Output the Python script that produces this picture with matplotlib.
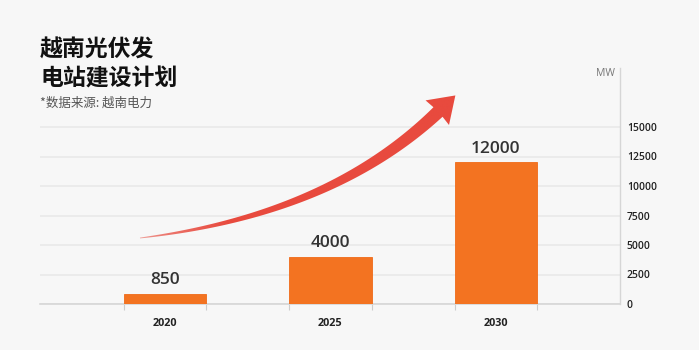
import numpy as np
import matplotlib
matplotlib.use("Agg")
import matplotlib.pyplot as plt
from matplotlib.path import Path
from matplotlib.patches import PathPatch
from matplotlib.ticker import FixedLocator

# ---- data ----
years = ["2020", "2025", "2030"]
capacity_mw = [850, 4000, 12000]
y_ticks = [0, 2500, 5000, 7500, 10000, 12500, 15000]
title_lines = ["越南光伏发", "电站建设计划"]
subtitle = "*数据来源: 越南电力"
unit_label = "MW"

W, H = 699, 350
BG = "#f7f7f7"
BAR = "#f37321"
ARROW = "#e84a3e"
CJK = ["Noto Sans CJK SC", "DejaVu Sans"]
NUM = ["Open Sans", "DejaVu Sans"]

fig = plt.figure(figsize=(W / 100, H / 100), dpi=100, facecolor=BG)
ax = fig.add_axes([40 / W, 1 - 304 / H, 580 / W, (304 - 68) / H])
ax.set_facecolor(BG)

x = np.arange(len(years))
bars = ax.bar(x, capacity_mw, width=0.5, color=BAR, edgecolor="#f06a18", linewidth=0.6, zorder=3)
for xi, v in zip(x, capacity_mw):
    ax.annotate(f"{v}", (xi, v), xytext=(0, 4), textcoords="offset points",
                ha="center", va="bottom", fontsize=12.5, color="#333333",
                family=NUM, fontweight="semibold")

ax.set_xlim(-0.755, 2.75)
ax.set_ylim(0, 20000)
ax.set_yticks(y_ticks)
ax.yaxis.tick_right()
ax.tick_params(axis="y", length=0, pad=5, labelsize=7.5, labelcolor="#222222")
for lab in ax.get_yticklabels():
    lab.set_family(NUM)
    lab.set_fontweight("semibold")
ax.grid(axis="y", color="#e8e8e8", linewidth=1.1, zorder=0)
ax.set_xticks(x)
ax.set_xticklabels(years, family=NUM, fontweight="bold", fontsize=7.8, color="#222222")
ax.tick_params(axis="x", which="major", length=0, pad=10)
ax.xaxis.set_minor_locator(FixedLocator(np.concatenate([x - 0.25, x + 0.25])))
ax.tick_params(axis="x", which="minor", length=4, color="#cccccc", width=0.8)
for s in ["top", "left"]:
    ax.spines[s].set_visible(False)
ax.spines["bottom"].set_color("#d6d6d6")
ax.spines["bottom"].set_linewidth(1.2)
ax.spines["right"].set_color("#d6d6d6")
ax.spines["right"].set_linewidth(1.0)

# ---- text ----
fig.text(40 / W, 1 - 50.5 / H, title_lines[0], family=CJK, fontweight="heavy",
         fontsize=16.5, color="#111111", va="center", ha="left")
fig.text(40 / W, 1 - 79 / H, title_lines[1], family=CJK, fontweight="heavy",
         fontsize=16.5, color="#111111", va="center", ha="left")
fig.text(40 / W, 1 - 103 / H, subtitle, family=CJK, fontsize=9,
         color="#555555", va="center", ha="left")
fig.text(615 / W, 1 - 73 / H, unit_label, family=NUM, fontsize=7.5,
         color="#777777", va="center", ha="right")

# ---- decorative growth arrow (pixel overlay) ----
ov = fig.add_axes([0, 0, 1, 1], facecolor="none")
ov.set_xlim(0, W)
ov.set_ylim(H, 0)
ov.axis("off")

P0 = np.array([140.0, 238.0])
C = np.array([330.0, 215.0])
P2 = np.array([438.0, 112.0])
t = np.linspace(0, 1, 120)
pts = ((1 - t) ** 2)[:, None] * P0 + (2 * (1 - t) * t)[:, None] * C + (t ** 2)[:, None] * P2
d = (-2 * (1 - t))[:, None] * P0 + (2 * (1 - 2 * t))[:, None] * C + (2 * t)[:, None] * P2
d /= np.linalg.norm(d, axis=1)[:, None]
nrm = np.stack([-d[:, 1], d[:, 0]], axis=1)
half = 0.4 + 6.2 * t ** 0.9
left = pts + nrm * half[:, None]
right = pts - nrm * half[:, None]
tip_dir = d[-1]
tip_n = nrm[-1]
tip = P2 + tip_dir * 24
hl = P2 + tip_n * 17 - tip_dir * 1
hr = P2 - tip_n * 17 - tip_dir * 1
verts = np.vstack([left, [hl], [tip], [hr], right[::-1], [left[0]]])
codes = [Path.MOVETO] + [Path.LINETO] * (len(verts) - 2) + [Path.CLOSEPOLY]
patch = PathPatch(Path(verts, codes), facecolor="none", edgecolor="none")
ov.add_patch(patch)

gx = np.linspace(0, W, 400)
alpha = np.clip((gx - 138) / 90, 0, 1) ** 0.5 * 0.6 + 0.4
alpha = np.clip(alpha, 0, 1)
rgb = matplotlib.colors.to_rgb(ARROW)
img = np.zeros((2, len(gx), 4))
img[..., 0], img[..., 1], img[..., 2] = rgb
img[..., 3] = alpha[None, :]
im = ov.imshow(img, extent=[0, W, H, 0], aspect="auto", interpolation="bilinear", zorder=5)
im.set_clip_path(patch)
ov.set_xlim(0, W)
ov.set_ylim(H, 0)

fig.savefig("out.png", dpi=100, facecolor=BG)
